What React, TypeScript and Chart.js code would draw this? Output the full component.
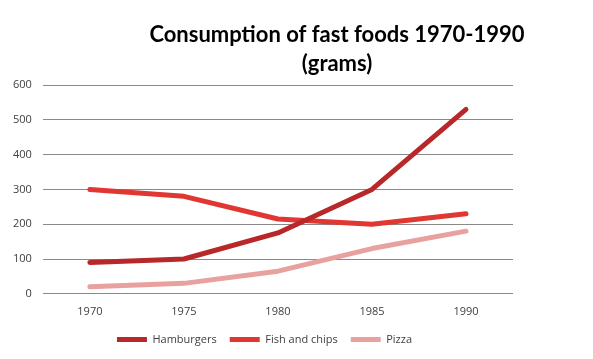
import React, { useEffect, useRef } from "react";
import { Chart, registerables } from "chart.js";

Chart.register(...registerables);

const categories = ["1970", "1975", "1980", "1985", "1990"];
const hamburgers = [90, 100, 175, 300, 530];
const fishAndChips = [300, 280, 215, 200, 230];
const pizza = [20, 30, 65, 130, 180];
const titleLines = ["Consumption of fast foods 1970-1990", "(grams)"];

const titlePlugin = {
  id: "offsetTitle",
  afterLayout(chart: any) {
    if (chart.legend) {
      chart.legend.left += 7;
      chart.legend.right += 7;
    }
  },
  afterDraw(chart: any) {
    const ctx = chart.ctx;
    ctx.save();
    ctx.fillStyle = "#000000";
    ctx.font = "bold 22px Lato";
    ctx.textAlign = "center";
    ctx.textBaseline = "alphabetic";
    ctx.fillText(titleLines[0], 337, 42);
    ctx.fillText(titleLines[1], 337, 71);
    ctx.restore();
  },
};

export default function App() {
  const ref = useRef<HTMLCanvasElement | null>(null);
  useEffect(() => {
    document.body.style.margin = "0";
    const chart = new Chart(ref.current as HTMLCanvasElement, {
      type: "line",
      data: {
        labels: categories,
        datasets: [
          { label: "Hamburgers", data: hamburgers, borderColor: "#B8282A", backgroundColor: "#B8282A" },
          { label: "Fish and chips", data: fishAndChips, borderColor: "#E03733", backgroundColor: "#E03733" },
          { label: "Pizza", data: pizza, borderColor: "#E8A19F", backgroundColor: "#E8A19F" },
        ].map((d) => ({
          ...d,
          borderWidth: 5,
          borderCapStyle: "round" as const,
          borderJoinStyle: "round" as const,
          pointRadius: 0,
          pointHoverRadius: 0,
          pointStyle: "line" as const,
          tension: 0,
        })),
      },
      options: {
        animation: false,
        responsive: false,
        layout: { padding: { left: 2, right: 80, top: 85, bottom: 4 } },
        plugins: {
          title: { display: false },
          tooltip: { enabled: false },
          legend: {
            position: "bottom",
            labels: {
              usePointStyle: true,
              pointStyleWidth: 30,
              font: { family: "Open Sans", size: 11 },
              color: "#404040",
              padding: 13,
            },
          },
        },
        scales: {
          x: {
            offset: true,
            grid: { display: false },
            border: { display: false },
            ticks: { font: { family: "Open Sans", size: 11 }, color: "#404040", padding: 3 },
          },
          y: {
            min: 0,
            max: 600,
            ticks: { stepSize: 100, font: { family: "Open Sans", size: 11 }, color: "#404040", padding: 11 },
            grid: { color: "#898989", drawTicks: false, lineWidth: 1 },
            border: { display: false },
          },
        },
      },
      plugins: [titlePlugin],
    });
    return () => chart.destroy();
  }, []);
  return <canvas ref={ref} width={593} height={359} style={{ display: "block" }} />;
}
